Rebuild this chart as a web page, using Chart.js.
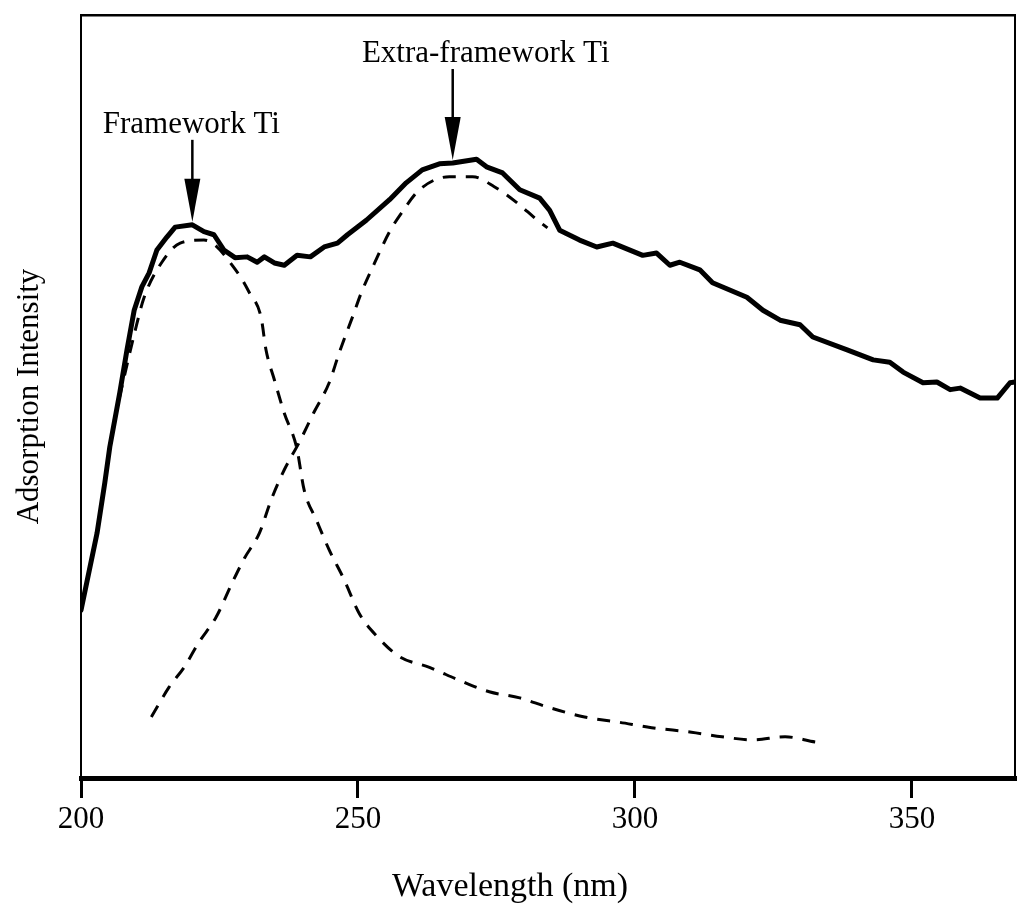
<!DOCTYPE html>
<html>
<head>
<meta charset="utf-8">
<title>Adsorption spectrum</title>
<script src="https://cdn.jsdelivr.net/npm/chart.js@4"></script>
<style>
  body { margin: 0; background: #fff; }
  #wrap { width: 1018px; height: 906px; }
</style>
</head>
<body>
<div id="wrap"><canvas id="spectrum" width="1018" height="906"></canvas></div>
<script>
// measured spectrum (solid)
const solidWavelength = [200.0, 202.9, 204.3, 205.2, 207.0, 208.3, 209.6, 211.0, 212.3, 213.7, 215.5, 217.0, 220.1, 222.2, 224.0, 225.8, 227.8, 230.0, 231.8, 233.1, 234.9, 236.7, 239.0, 241.4, 243.9, 246.3, 248.1, 251.5, 255.7, 258.7, 261.6, 264.7, 267.1, 271.4, 273.2, 276.1, 279.2, 282.8, 284.6, 286.4, 290.0, 293.1, 296.0, 301.4, 303.9, 306.3, 308.1, 311.7, 314.0, 320.2, 323.1, 326.2, 329.8, 332.1, 338.3, 343.0, 346.0, 348.4, 352.0, 354.5, 356.9, 358.7, 362.3, 365.4, 367.7, 368.6];
const solidIntensity = [22.0, 32.1, 38.7, 43.4, 50.5, 56.1, 61.3, 64.4, 66.2, 69.2, 70.9, 72.2, 72.5, 71.6, 71.2, 69.2, 68.2, 68.3, 67.6, 68.3, 67.5, 67.2, 68.5, 68.3, 69.6, 70.1, 71.2, 73.1, 75.8, 78.0, 79.7, 80.5, 80.6, 81.1, 80.1, 79.3, 77.1, 76.0, 74.4, 71.8, 70.5, 69.6, 70.1, 68.5, 68.8, 67.2, 67.6, 66.6, 64.9, 63.0, 61.3, 60.0, 59.4, 57.8, 56.1, 54.8, 54.5, 53.2, 51.8, 51.9, 50.9, 51.1, 49.8, 49.8, 51.8, 51.9];

// fitted framework Ti band (dashed)
const frameworkWavelength = [206.0, 209.8, 211.4, 214.6, 217.9, 222.2, 228.2, 230.4, 232.5, 233.4, 234.9, 236.7, 238.9, 240.3, 242.5, 244.8, 247.5, 250.2, 253.5, 257.5, 262.9, 268.3, 273.7, 279.2, 284.2, 290.9, 297.2, 303.0, 310.2, 315.7, 321.3, 327.1, 332.8, 334.3];
const frameworkIntensity = [46.9, 58.7, 63.0, 67.6, 70.1, 70.5, 66.3, 63.6, 60.4, 56.1, 52.2, 47.8, 43.4, 37.7, 33.8, 29.9, 26.0, 21.6, 18.5, 15.9, 14.5, 12.8, 11.3, 10.5, 9.3, 8.0, 7.3, 6.6, 6.0, 5.4, 5.0, 5.4, 4.7, 4.6];

// fitted extra-framework Ti band (dashed)
const extraWavelength = [212.7, 215.9, 218.6, 221.3, 224.4, 227.3, 229.5, 232.2, 234.3, 236.7, 239.4, 242.1, 244.8, 246.6, 249.0, 250.6, 253.0, 255.7, 258.0, 261.1, 266.5, 270.7, 274.6, 279.2, 281.9, 284.2];
const extraIntensity = [8.0, 11.9, 14.5, 17.8, 21.1, 25.6, 28.8, 32.1, 36.4, 40.4, 44.0, 48.0, 51.8, 55.7, 60.4, 63.6, 67.5, 71.6, 74.2, 77.1, 78.8, 78.8, 77.5, 75.1, 73.4, 72.1];

const wavelengthTicks = [200, 250, 300, 350];

const peakLabels = ['Framework Ti', 'Extra-framework Ti'];
const peakWavelengths = [220.1, 267.1];

const serif = "'Liberation Serif', 'Times New Roman', serif";

function toPoints(xs, ys) {
  return xs.map((x, i) => ({ x: x, y: ys[i] }));
}

// arrows pointing down at the two peaks, with their labels,
// plus the x axis caption (sits a bit left of the plot centre)
const peakArrows = {
  id: 'peakArrows',
  afterDatasetsDraw(chart, args, opts) {
    const ctx = chart.ctx;
    const xs = chart.scales.x, ys = chart.scales.y;
    ctx.save();
    ctx.fillStyle = '#000';
    ctx.strokeStyle = '#000';
    ctx.font = '31px ' + serif;
    ctx.textAlign = 'center';
    ctx.textBaseline = 'alphabetic';
    peakLabels.forEach((text, i) => {
      const wl = peakWavelengths[i];
      const idx = solidWavelength.indexOf(wl);
      const px = xs.getPixelForValue(wl);
      const tip = ys.getPixelForValue(solidIntensity[idx]) - 3;
      const rise = opts.rise[i];
      ctx.fillText(text, px + opts.dx[i], tip - rise);
      ctx.lineWidth = 2.5;
      ctx.beginPath();
      ctx.moveTo(px, tip - rise + 7);
      ctx.lineTo(px, tip - 40);
      ctx.stroke();
      ctx.beginPath();
      ctx.moveTo(px, tip);
      ctx.lineTo(px - 8, tip - 43);
      ctx.lineTo(px + 8, tip - 43);
      ctx.closePath();
      ctx.fill();
    });
    ctx.font = '34px ' + serif;
    ctx.fillText('Wavelength (nm)', opts.captionX, opts.captionY);
    ctx.restore();
  }
};

new Chart(document.getElementById('spectrum'), {
  type: 'line',
  data: {
    datasets: [
      {
        data: toPoints(solidWavelength, solidIntensity),
        borderColor: '#000',
        borderWidth: 5,
        pointRadius: 0,
        tension: 0,
        borderJoinStyle: 'round',
        borderCapStyle: 'round'
      },
      {
        data: toPoints(frameworkWavelength, frameworkIntensity),
        borderColor: '#000',
        borderWidth: 3,
        borderDash: [13, 10],
        pointRadius: 0,
        cubicInterpolationMode: 'monotone'
      },
      {
        data: toPoints(extraWavelength, extraIntensity),
        borderColor: '#000',
        borderWidth: 3,
        borderDash: [13, 10],
        pointRadius: 0,
        cubicInterpolationMode: 'monotone'
      }
    ]
  },
  options: {
    responsive: false,
    animation: false,
    layout: { padding: { top: 15, right: 3, left: 0, bottom: 0 } },
    plugins: {
      legend: { display: false },
      tooltip: { enabled: false },
      peakArrows: { dx: [-1, 33], rise: [89, 98], captionX: 510, captionY: 896 }
    },
    scales: {
      x: {
        type: 'linear',
        position: 'bottom',
        min: 200,
        max: 368.6,
        afterBuildTicks: (scale) => { scale.ticks = wavelengthTicks.map(v => ({ value: v })); },
        afterFit: (scale) => { scale.height = 128; },
        ticks: {
          color: '#000',
          font: { family: serif, size: 31 },
          padding: 3,
          maxRotation: 0
        },
        grid: {
          drawOnChartArea: false,
          drawTicks: true,
          tickLength: 20,
          lineWidth: 3,
          color: '#000'
        },
        border: { color: '#000', width: 5 }
      },
      y: {
        type: 'linear',
        position: 'left',
        min: 0,
        max: 100,
        afterFit: (scale) => { scale.width = 81; },
        ticks: { display: false },
        grid: { display: false },
        border: { color: '#000', width: 2 },
        title: {
          display: true,
          text: 'Adsorption Intensity',
          color: '#000',
          font: { family: serif, size: 31 },
          padding: { top: 11, bottom: 0 }
        }
      },
      xTop: {
        type: 'linear',
        position: 'top',
        afterFit: (scale) => { scale.height = 0; },
        ticks: { display: false },
        grid: { display: false },
        border: { color: '#000', width: 2.5 }
      },
      yRight: {
        type: 'linear',
        position: 'right',
        afterFit: (scale) => { scale.width = 0; },
        ticks: { display: false },
        grid: { display: false },
        border: { color: '#000', width: 2 }
      }
    }
  },
  plugins: [peakArrows]
});
</script>
</body>
</html>
